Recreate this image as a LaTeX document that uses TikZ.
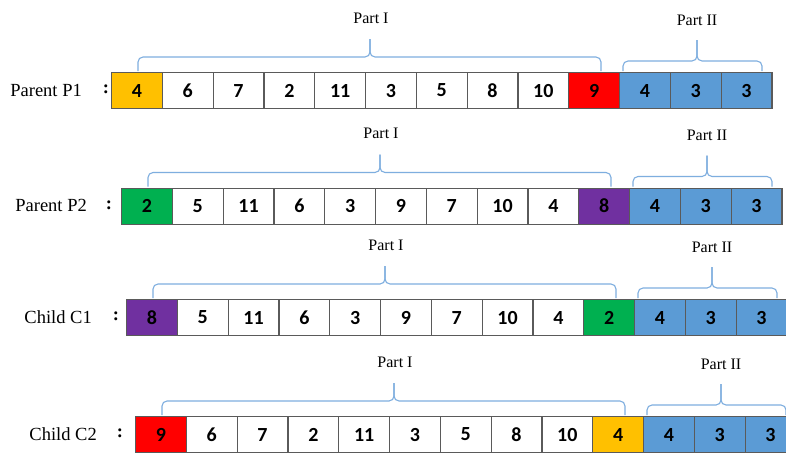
\documentclass[tikz,border=0pt]{standalone}
\usepackage{fontspec}
\setmainfont{Liberation Serif}
\newfontfamily\numfont{Carlito}
\definecolor{gorange}{HTML}{FFC000}
\definecolor{gred}{HTML}{FF0000}
\definecolor{ggreen}{HTML}{00B050}
\definecolor{gpurple}{HTML}{7030A0}
\definecolor{gblue}{HTML}{5B9BD5}
\definecolor{cellgray}{HTML}{5A5A5A}
\definecolor{bracecol}{HTML}{7EAEDF}
\tikzset{
  cell/.style={draw=cellgray, line width=1.1pt, minimum width=50.8pt, minimum height=36pt,
    inner sep=0pt, anchor=north west, font=\numfont\bfseries\fontsize{20}{20}\selectfont},
  rowlab/.style={font=\fontsize{18.5}{18.5}\selectfont, inner sep=0pt},
  partlab/.style={font=\fontsize{16}{16}\selectfont, inner sep=0pt},
  bracestyle/.style={draw=bracecol, line width=1.1pt, rounded corners=5pt},
}
% #1 name, #2 box left, #3 box top, #4 label, #5 label right x, #6 colon x, #7 cells
\newcommand{\garow}[7]{%
  \node[rowlab, anchor=east] (#1lab) at (#5,{#3+18}) {#4};
  \node[rowlab] (#1col) at (#6,{#3+17.5}) {\textbf{:}};
  \foreach \v/\c [count=\i from 0] in {#7}{%
    \node[cell, fill=\c] (#1c\i) at ({#2+\i*50.8},#3) {\v};
  }
  \draw[bracestyle] ({#2+27},{#3-1}) -- ({#2+27},{#3-15}) -- ({#2+259},{#3-15}) -- ({#2+259},{#3-33});
  \draw[bracestyle] ({#2+259},{#3-33}) -- ({#2+259},{#3-15}) -- ({#2+490},{#3-15}) -- ({#2+490},{#3-1});
  \draw[bracestyle] ({#2+512},{#3-1}) -- ({#2+512},{#3-11}) -- ({#2+586},{#3-11}) -- ({#2+586},{#3-32});
  \draw[bracestyle] ({#2+586},{#3-32}) -- ({#2+586},{#3-11}) -- ({#2+651},{#3-11}) -- ({#2+651},{#3-1});
  \node[partlab] (#1pa) at ({#2+260},{#3-54}) {Part I};
  \node[partlab] (#1pb) at ({#2+586},{#3-52}) {Part II};
}
\begin{document}
\begin{tikzpicture}[x=1pt,y=-1pt]
\useasboundingbox (0,0) rectangle (786,453);
\clip (0,0) rectangle (786,453);
\fill[white] (0,0) rectangle (786,453);
\garow{pa}{111}{72}{Parent P1}{82}{106}{4/gorange,6/white,7/white,2/white,11/white,3/white,5/white,8/white,10/white,9/gred,4/gblue,3/gblue,3/gblue}
\garow{pb}{121}{187.5}{Parent P2}{87}{109}{2/ggreen,5/white,11/white,6/white,3/white,9/white,7/white,10/white,4/white,8/gpurple,4/gblue,3/gblue,3/gblue}
\garow{ca}{126}{299}{Child C1}{92}{116}{8/gpurple,5/white,11/white,6/white,3/white,9/white,7/white,10/white,4/white,2/ggreen,4/gblue,3/gblue,3/gblue}
\garow{cb}{135}{416}{Child C2}{97}{120}{9/gred,6/white,7/white,2/white,11/white,3/white,5/white,8/white,10/white,4/gorange,4/gblue,3/gblue,3/gblue}
\end{tikzpicture}
\end{document}
